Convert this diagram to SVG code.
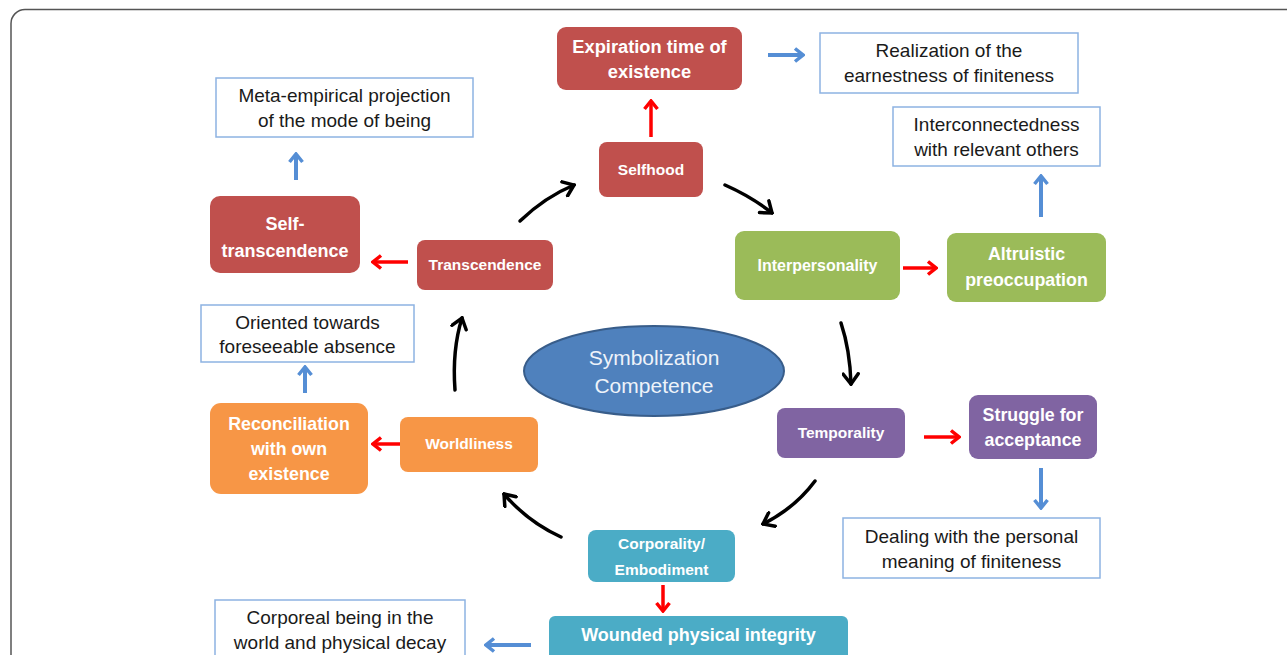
<svg xmlns="http://www.w3.org/2000/svg" width="1287" height="655" viewBox="0 0 1287 655">
<defs>
<style>
.n{stroke:none}
.red{fill:#C0504D}.grn{fill:#9BBB59}.pur{fill:#8064A2}.org{fill:#F79646}.teal{fill:#4BACC6}
.wb{fill:#fff;stroke:#8DB3E2;stroke-width:1.5}
.t{font-family:"Liberation Sans",Arial,sans-serif;text-anchor:middle}
.bw{fill:#fff;font-weight:bold}
.bk{fill:#1a1a1a;font-size:19px}
.cr{fill:none;stroke:#FF0000;stroke-width:3.5}
.cb{fill:none;stroke:#558ED5;stroke-width:4}
.ck{fill:none;stroke:#000;stroke-width:3.5;stroke-linecap:round}
</style>
<marker id="mr" viewBox="0 0 12 16" refX="10" refY="8" markerWidth="12" markerHeight="16" markerUnits="userSpaceOnUse" orient="auto"><path d="M2,1.5 L10,8 L2,14.5" fill="none" stroke="#FF0000" stroke-width="3.5"/></marker>
<marker id="mb" viewBox="0 0 12 16" refX="10" refY="8" markerWidth="12" markerHeight="16" markerUnits="userSpaceOnUse" orient="auto"><path d="M2,1.5 L10,8 L2,14.5" fill="none" stroke="#558ED5" stroke-width="3.5"/></marker>
<marker id="mk" viewBox="0 0 14 18" refX="12" refY="9" markerWidth="14" markerHeight="18" markerUnits="userSpaceOnUse" orient="auto"><path d="M2,1.5 L12,9 L2,16.5" fill="none" stroke="#000" stroke-width="3.5" stroke-linecap="round"/></marker>
</defs>
<rect width="1287" height="655" fill="#fff"/>
<rect x="11" y="9.5" width="1320" height="700" rx="14" fill="none" stroke="#555" stroke-width="1.5"/>

<g id="connectors">
<path class="cb" d="M768,55 H803" marker-end="url(#mb)"/>
<path class="cr" d="M651,137 V101" marker-end="url(#mr)"/>
<path class="cb" d="M296,180 V154" marker-end="url(#mb)"/>
<path class="cb" d="M1041,217 V176" marker-end="url(#mb)"/>
<path class="cr" d="M408,262 H373" marker-end="url(#mr)"/>
<path class="cr" d="M903,268 H936" marker-end="url(#mr)"/>
<path class="cb" d="M305,393 V367" marker-end="url(#mb)"/>
<path class="cr" d="M400,444 H373" marker-end="url(#mr)"/>
<path class="cr" d="M924,437 H959" marker-end="url(#mr)"/>
<path class="cb" d="M1041,468 V508" marker-end="url(#mb)"/>
<path class="cr" d="M663,585 V611" marker-end="url(#mr)"/>
<path class="cb" d="M531,645 H486" marker-end="url(#mb)"/>
<path class="ck" d="M520,221 Q545,197 574,185" marker-end="url(#mk)"/>
<path class="ck" d="M725,185 Q752,197 772,213" marker-end="url(#mk)"/>
<path class="ck" d="M841,323 Q850,350 851,384" marker-end="url(#mk)"/>
<path class="ck" d="M815,481 Q795,508 763,524" marker-end="url(#mk)"/>
<path class="ck" d="M561,537 Q528,522 504,494" marker-end="url(#mk)"/>
<path class="ck" d="M455,390 Q452,350 462,318" marker-end="url(#mk)"/>
</g>

<g id="expiration"><rect class="red" x="557" y="27" width="185" height="63" rx="9"/>
<text class="t bw" font-size="18.3" x="649.5" y="53">Expiration time of</text>
<text class="t bw" font-size="18.3" x="649.5" y="78">existence</text></g>

<g id="realization"><rect class="wb" x="820" y="33" width="258" height="60"/>
<text class="t bk" x="949" y="57">Realization of the</text>
<text class="t bk" x="949" y="82">earnestness of finiteness</text></g>

<g id="metaempirical"><rect class="wb" x="216" y="78" width="257" height="59"/>
<text class="t bk" x="344.5" y="102">Meta-empirical projection</text>
<text class="t bk" x="344.5" y="127">of the mode of being</text></g>

<g id="selfhood"><rect class="red" x="599" y="142" width="104" height="55" rx="8"/>
<text class="t bw" font-size="15.5" x="651" y="175">Selfhood</text></g>

<g id="interconnectedness"><rect class="wb" x="893" y="107" width="207" height="59"/>
<text class="t bk" x="996.5" y="131">Interconnectedness</text>
<text class="t bk" x="996.5" y="156">with relevant others</text></g>

<g id="selftranscendence"><rect class="red" x="210" y="196" width="150" height="77" rx="10"/>
<text class="t bw" font-size="18" x="285" y="230">Self-</text>
<text class="t bw" font-size="18" x="285" y="257">transcendence</text></g>

<g id="transcendence"><rect class="red" x="417" y="240" width="136" height="50" rx="8"/>
<text class="t bw" font-size="15.5" x="485" y="270">Transcendence</text></g>

<g id="interpersonality"><rect class="grn" x="735" y="231" width="165" height="69" rx="9"/>
<text class="t bw" font-size="16" x="817.5" y="271">Interpersonality</text></g>

<g id="altruistic"><rect class="grn" x="947" y="233" width="159" height="69" rx="9"/>
<text class="t bw" font-size="17.8" x="1026.5" y="260">Altruistic</text>
<text class="t bw" font-size="17.8" x="1026.5" y="286">preoccupation</text></g>

<g id="oriented"><rect class="wb" x="201" y="305" width="213" height="57"/>
<text class="t bk" x="307.5" y="329">Oriented towards</text>
<text class="t bk" x="307.5" y="353">foreseeable absence</text></g>

<g id="symbolization"><ellipse cx="654" cy="371" rx="130" ry="45" fill="#4F81BD" stroke="#385D8A" stroke-width="2"/>
<text class="t" font-size="21" fill="#EEF3FA" x="654" y="365">Symbolization</text>
<text class="t" font-size="21" fill="#EEF3FA" x="654" y="393">Competence</text></g>

<g id="reconciliation"><rect class="org" x="210" y="403" width="158" height="91" rx="11"/>
<text class="t bw" font-size="17.8" x="289" y="430">Reconciliation</text>
<text class="t bw" font-size="17.8" x="289" y="455">with own</text>
<text class="t bw" font-size="17.8" x="289" y="480">existence</text></g>

<g id="worldliness"><rect class="org" x="400" y="417" width="138" height="55" rx="8"/>
<text class="t bw" font-size="15.5" x="469" y="449">Worldliness</text></g>

<g id="temporality"><rect class="pur" x="777" y="408" width="128" height="50" rx="8"/>
<text class="t bw" font-size="15.5" x="841" y="438">Temporality</text></g>

<g id="struggle"><rect class="pur" x="969" y="395" width="128" height="64" rx="9"/>
<text class="t bw" font-size="17.8" x="1033" y="421">Struggle for</text>
<text class="t bw" font-size="17.8" x="1033" y="446">acceptance</text></g>

<g id="dealing"><rect class="wb" x="843" y="518" width="257" height="60"/>
<text class="t bk" x="971.5" y="543">Dealing with the personal</text>
<text class="t bk" x="971.5" y="568">meaning of finiteness</text></g>

<g id="corporality"><rect class="teal" x="588" y="530" width="147" height="52" rx="8"/>
<text class="t bw" font-size="15.5" x="661.5" y="549">Corporality/</text>
<text class="t bw" font-size="15.5" x="661.5" y="575">Embodiment</text></g>

<g id="wounded"><rect class="teal" x="549" y="616" width="299" height="50" rx="6"/>
<text class="t bw" font-size="18" x="698.5" y="641">Wounded physical integrity</text></g>

<g id="corporeal"><rect class="wb" x="215" y="600" width="250" height="70"/>
<text class="t bk" x="340" y="624">Corporeal being in the</text>
<text class="t bk" x="340" y="649">world and physical decay</text></g>
</svg>
